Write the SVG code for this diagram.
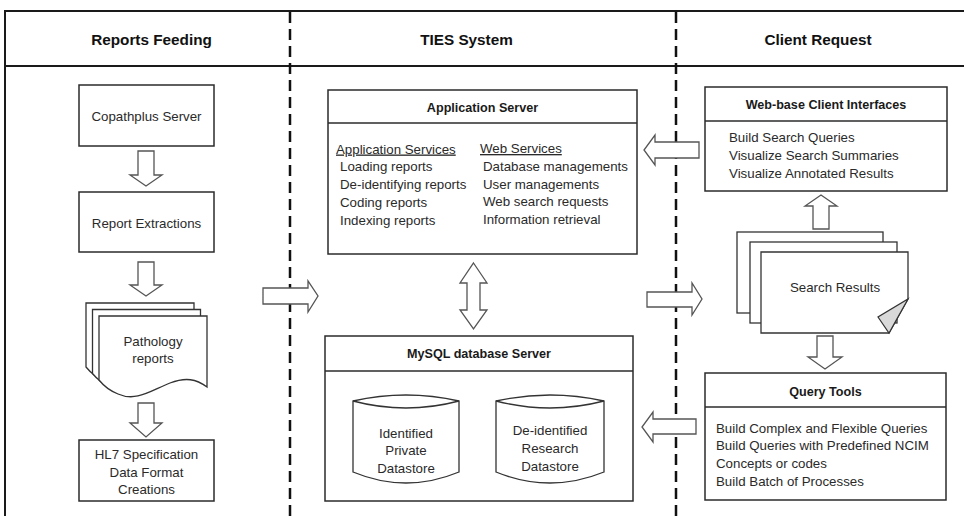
<svg xmlns="http://www.w3.org/2000/svg" width="964" height="516" viewBox="0 0 964 516">
  <style>
    .frame { stroke: #1a1a1a; stroke-width: 2; fill: none; }
    .lane { stroke: #111; stroke-width: 2.5; stroke-dasharray: 11 6; fill: none; }
    .box { fill: #fff; stroke: #2b2b2b; stroke-width: 1.5; }
    .div { stroke: #2b2b2b; stroke-width: 1.5; fill: none; }
    .doc { fill: #fff; stroke: #333; stroke-width: 1.3; }
    .fold { fill: #d9d9d9; stroke: #333; stroke-width: 1.2; }
    .arrow { fill: #fff; stroke: #555; stroke-width: 1.3; stroke-linejoin: miter; }
    text { font-family: "Liberation Sans", Arial, sans-serif; fill: #2a2a2a; }
    .hdr { font-size: 15.3px; font-weight: bold; text-anchor: middle; fill: #111; }
    .ttl { font-size: 12.6px; font-weight: bold; text-anchor: middle; fill: #1a1a1a; }
    .txt { font-size: 13.3px; }
    .ctr { text-anchor: middle; }
    .ul { text-decoration: underline; }
  </style>

  <!-- swimlane frame -->
  <g id="frame">
    <line class="frame" x1="5" y1="11" x2="964" y2="11"/>
    <line class="frame" x1="5" y1="66" x2="964" y2="66"/>
    <line class="frame" x1="5" y1="10" x2="5" y2="516"/>
    <line class="lane" x1="290" y1="12" x2="290" y2="516"/>
    <line class="lane" x1="676" y1="12" x2="676" y2="516"/>
    <text class="hdr" x="151.5" y="45">Reports Feeding</text>
    <text class="hdr" x="466.5" y="45">TIES System</text>
    <text class="hdr" x="818" y="45">Client Request</text>
  </g>

  <!-- Reports Feeding lane -->
  <g id="copathplus">
    <rect class="box" x="79" y="85" width="135" height="61"/>
    <text class="txt ctr" x="146.5" y="120.5">Copathplus Server</text>
  </g>
  <g id="extractions">
    <rect class="box" x="79" y="192" width="135" height="60"/>
    <text class="txt ctr" x="146.5" y="227.5">Report Extractions</text>
  </g>
  <g id="pathology">
    <path id="pdoc" class="doc" d="M99,316 H207 V387 C196,379 186,377 170,383 C150,391 136,402 118,394 C108,390 103,385 99,380 Z" transform="translate(-13,-13)"/>
    <path class="doc" d="M99,316 H207 V387 C196,379 186,377 170,383 C150,391 136,402 118,394 C108,390 103,385 99,380 Z" transform="translate(-6.5,-6.5)"/>
    <path class="doc" d="M99,316 H207 V387 C196,379 186,377 170,383 C150,391 136,402 118,394 C108,390 103,385 99,380 Z"/>
    <text class="txt ctr" x="153" y="345.5">Pathology</text>
    <text class="txt ctr" x="153" y="362.5">reports</text>
  </g>
  <g id="hl7">
    <rect class="box" x="79" y="440" width="135" height="61"/>
    <text class="txt ctr" x="146.5" y="458.5">HL7 Specification</text>
    <text class="txt ctr" x="146.5" y="476.5">Data Format</text>
    <text class="txt ctr" x="146.5" y="493.5">Creations</text>
  </g>

  <!-- TIES System lane -->
  <g id="app-server">
    <rect class="box" x="328" y="90" width="309" height="164"/>
    <line class="div" x1="328" y1="123" x2="637" y2="123"/>
    <text class="ttl" x="482.5" y="112">Application Server</text>
    <text class="txt ul" x="336" y="153.5">Application Services</text>
    <text class="txt" x="340" y="171.3">Loading reports</text>
    <text class="txt" x="340" y="189">De-identifying reports</text>
    <text class="txt" x="340" y="206.8">Coding reports</text>
    <text class="txt" x="340" y="224.5">Indexing reports</text>
    <text class="txt ul" x="480" y="153">Web Services</text>
    <text class="txt" x="483" y="170.8">Database managements</text>
    <text class="txt" x="483" y="188.5">User managements</text>
    <text class="txt" x="483" y="206.3">Web search requests</text>
    <text class="txt" x="483" y="224">Information retrieval</text>
  </g>
  <g id="mysql-server">
    <rect class="box" x="325" y="336" width="308" height="165"/>
    <line class="div" x1="325" y1="371" x2="633" y2="371"/>
    <text class="ttl" x="479" y="357.5">MySQL database Server</text>
  </g>
  <g id="identified-store">
    <path class="doc" d="M353,401 Q406,389 459,401 V472 Q406,494 353,472 Z"/>
    <path class="doc" d="M353,401 Q406,415 459,401" fill="none"/>
    <text class="txt ctr" x="406" y="437.5">Identified</text>
    <text class="txt ctr" x="406" y="455">Private</text>
    <text class="txt ctr" x="406" y="472.5">Datastore</text>
  </g>
  <g id="deidentified-store">
    <path class="doc" d="M496,401 Q550,389 604,401 V472 Q550,494 496,472 Z"/>
    <path class="doc" d="M496,401 Q550,415 604,401" fill="none"/>
    <text class="txt ctr" x="550" y="435">De-identified</text>
    <text class="txt ctr" x="550" y="453">Research</text>
    <text class="txt ctr" x="550" y="471">Datastore</text>
  </g>

  <!-- Client Request lane -->
  <g id="web-client">
    <rect class="box" x="705" y="87" width="242" height="104"/>
    <line class="div" x1="705" y1="121" x2="947" y2="121"/>
    <text class="ttl" x="826" y="108.5">Web-base Client Interfaces</text>
    <text class="txt" x="729" y="141.5">Build Search Queries</text>
    <text class="txt" x="729" y="159.5">Visualize Search Summaries</text>
    <text class="txt" x="729" y="177.5">Visualize Annotated Results</text>
  </g>
  <g id="search-results">
    <rect class="doc" x="737" y="232" width="146" height="81"/>
    <rect class="doc" x="750" y="242" width="147" height="81"/>
    <path class="doc" d="M761,252 H908 V299 L889,333 H761 Z"/>
    <path class="fold" d="M908,299 L889,333 L878,317 Z"/>
    <text class="txt ctr" x="835" y="291.5">Search Results</text>
  </g>
  <g id="query-tools">
    <rect class="box" x="705" y="373" width="241" height="127"/>
    <line class="div" x1="705" y1="407" x2="946" y2="407"/>
    <text class="ttl" x="825.5" y="395.5">Query Tools</text>
    <text class="txt" x="716" y="432.5">Build Complex and Flexible Queries</text>
    <text class="txt" x="716" y="450.2">Build Queries with Predefined NCIM</text>
    <text class="txt" x="716" y="467.8">Concepts or codes</text>
    <text class="txt" x="716" y="485.5">Build Batch of Processes</text>
  </g>

  <!-- block-arrow connectors -->
  <g id="connectors">
    <path class="arrow" d="M138,151 H154 V175 H162 L146,186 L130,175 H138 Z"/>
    <path class="arrow" d="M138,262 H154 V285 H162 L146,296 L130,285 H138 Z"/>
    <path class="arrow" d="M138,403 H154 V423 H162 L146,437 L130,423 H138 Z"/>
    <path class="arrow" d="M263,288 H308 V281 L318,296 L308,312 V304 H263 Z"/>
    <path class="arrow" d="M473.5,263 L487,283 H480 V310 H487 L473.5,329 L460,310 H467 V283 H460 Z"/>
    <path class="arrow" d="M647,292 H692 V283 L702,299 L692,315 V307 H647 Z"/>
    <path class="arrow" d="M699,142 V158 H655 V165 L644,150 L655,135 V142 Z"/>
    <path class="arrow" d="M696,419 V434 H653 V442 L642,427 L653,412 V419 Z"/>
    <path class="arrow" d="M813,229 V206 H805 L821,195 L837,206 H829 V229 Z"/>
    <path class="arrow" d="M817,336 H833 V357 H842 L825,369 L808,357 H817 Z"/>
  </g>
</svg>
